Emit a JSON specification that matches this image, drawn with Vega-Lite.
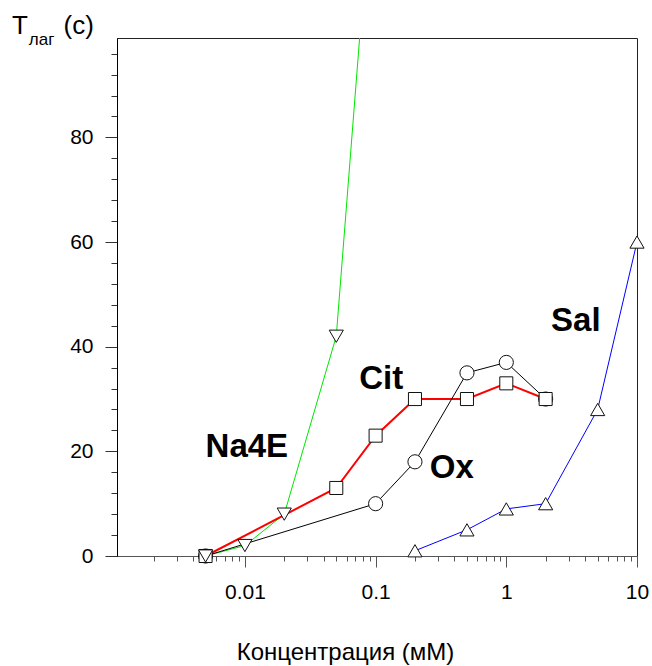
{
  "$schema": "https://vega.github.io/schema/vega-lite/v6.json",
  "autosize": {"type": "none"},
  "width": 520,
  "height": 518,
  "padding": {"left": 117, "top": 38, "right": 15, "bottom": 110},
  "background": "white",
  "config": {
    "view": {"stroke": "#222", "strokeWidth": 1},
    "font": "Liberation Sans",
    "axis": {"grid": false, "labelFont": "Liberation Sans", "titleFont": "Liberation Sans", "labelColor": "black", "titleColor": "black"}
  },
  "datasets": {
    "curves": [
      {"series": "Na4E", "conc": 0.005, "t": 0},
      {"series": "Na4E", "conc": 0.01, "t": 2},
      {"series": "Na4E", "conc": 0.02, "t": 8},
      {"series": "Na4E", "conc": 0.05, "t": 42},
      {"series": "Na4E", "conc": 0.1, "t": 138},
      {"series": "Cit", "conc": 0.005, "t": 0},
      {"series": "Cit", "conc": 0.05, "t": 13},
      {"series": "Cit", "conc": 0.1, "t": 23},
      {"series": "Cit", "conc": 0.2, "t": 30},
      {"series": "Cit", "conc": 0.5, "t": 30},
      {"series": "Cit", "conc": 1, "t": 33},
      {"series": "Cit", "conc": 2, "t": 30},
      {"series": "Ox", "conc": 0.005, "t": 0},
      {"series": "Ox", "conc": 0.1, "t": 10},
      {"series": "Ox", "conc": 0.2, "t": 18},
      {"series": "Ox", "conc": 0.5, "t": 35},
      {"series": "Ox", "conc": 1, "t": 37},
      {"series": "Ox", "conc": 2, "t": 30},
      {"series": "Sal", "conc": 0.2, "t": 1},
      {"series": "Sal", "conc": 0.5, "t": 5},
      {"series": "Sal", "conc": 1, "t": 9},
      {"series": "Sal", "conc": 2, "t": 10},
      {"series": "Sal", "conc": 5, "t": 28},
      {"series": "Sal", "conc": 10, "t": 60}
    ],
    "labels": [
      {"label": "Na4E", "conc": 0.005, "t": 19},
      {"label": "Cit", "conc": 0.075, "t": 32},
      {"label": "Ox", "conc": 0.26, "t": 15},
      {"label": "Sal", "conc": 2.2, "t": 43}
    ],
    "ytitle": [
      {"label": "T", "conc": 0.000165, "t": 99.7},
      {"label": "(с)", "conc": 0.00041, "t": 99.7}
    ],
    "ysub": [
      {"label": "лаг", "conc": 0.000222, "t": 97.6}
    ]
  },
  "encoding": {
    "x": {
      "field": "conc", "type": "quantitative",
      "scale": {"type": "log", "domain": [0.00105, 10], "nice": false},
      "axis": {
        "title": "Концентрация (мМ)",
        "titleFontSize": 24, "titleFontWeight": "normal",
        "titleX": 228, "titleY": 103, "titleAlign": "center", "titleBaseline": "alphabetic",
        "values": [0.002, 0.003, 0.004, 0.005, 0.006, 0.007, 0.008, 0.009, 0.01, 0.02, 0.03, 0.04, 0.05, 0.06, 0.07, 0.08, 0.09, 0.1, 0.2, 0.3, 0.4, 0.5, 0.6, 0.7, 0.8, 0.9, 1, 2, 3, 4, 5, 6, 7, 8, 9, 10],
        "labelExpr": "abs(log(datum.value)/LN10 - round(log(datum.value)/LN10)) < 0.000001 ? format(datum.value, '~g') : ''",
        "tickSize": {"condition": {"test": "abs(log(datum.value)/LN10 - round(log(datum.value)/LN10)) < 0.000001", "value": 11}, "value": 5},
        "labelFontSize": 21, "labelPadding": 14, "labelOverlap": false, "labelFlush": false, "labelBound": false,
        "domainColor": "#555", "tickColor": "#555"
      }
    },
    "y": {
      "field": "t", "type": "quantitative",
      "scale": {"domain": [0, 99], "nice": false, "zero": false},
      "axis": {
        "title": null,
        "values": [0, 4, 8, 12, 16, 20, 24, 28, 32, 36, 40, 44, 48, 52, 56, 60, 64, 68, 72, 76, 80, 84, 88, 92, 96],
        "labelExpr": "datum.value % 20 == 0 ? datum.label : ''",
        "tickSize": {"condition": {"test": "datum.value % 20 == 0", "value": 12}, "value": 6},
        "labelFontSize": 21, "labelPadding": 12, "labelOverlap": false, "labelFlush": false, "labelBound": false,
        "domainColor": "black", "tickColor": "#333"
      }
    }
  },
  "layer": [
    {"data": {"name": "curves"}, "transform": [{"filter": "datum.series == 'Na4E'"}], "mark": {"type": "line", "color": "#00e600", "strokeWidth": 1, "clip": true}},
    {"data": {"name": "curves"}, "transform": [{"filter": "datum.series == 'Cit'"}], "mark": {"type": "line", "color": "#ff0000", "strokeWidth": 2}},
    {"data": {"name": "curves"}, "transform": [{"filter": "datum.series == 'Ox'"}], "mark": {"type": "line", "color": "#000000", "strokeWidth": 1}},
    {"data": {"name": "curves"}, "transform": [{"filter": "datum.series == 'Sal'"}], "mark": {"type": "line", "color": "#0000ff", "strokeWidth": 1}},
    {"data": {"name": "curves"}, "transform": [{"filter": "datum.series == 'Ox' && datum.t <= 99"}], "mark": {"type": "point", "shape": "circle", "size": 200, "filled": true, "fill": "white", "stroke": "#111", "strokeWidth": 1, "opacity": 1}},
    {"data": {"name": "curves"}, "transform": [{"filter": "datum.series == 'Cit' && datum.t <= 99"}], "mark": {"type": "point", "shape": "square", "size": 170, "filled": true, "fill": "white", "stroke": "#111", "strokeWidth": 1, "opacity": 1}},
    {"data": {"name": "curves"}, "transform": [{"filter": "datum.series == 'Na4E' && datum.t <= 99"}], "mark": {"type": "point", "shape": "triangle-down", "size": 200, "filled": true, "fill": "white", "stroke": "#111", "strokeWidth": 1, "opacity": 1}},
    {"data": {"name": "curves"}, "transform": [{"filter": "datum.series == 'Sal' && datum.t <= 99"}], "mark": {"type": "point", "shape": "triangle-up", "size": 200, "filled": true, "fill": "white", "stroke": "#111", "strokeWidth": 1, "opacity": 1}},
    {"data": {"name": "labels"}, "mark": {"type": "text", "font": "Liberation Sans", "fontWeight": "bold", "fontSize": 33, "align": "left", "baseline": "alphabetic", "color": "black"}, "encoding": {"text": {"field": "label"}}},
    {"data": {"name": "ytitle"}, "mark": {"type": "text", "font": "Liberation Sans", "fontSize": 26, "align": "left", "baseline": "alphabetic", "color": "black"}, "encoding": {"text": {"field": "label"}}},
    {"data": {"name": "ysub"}, "mark": {"type": "text", "font": "Liberation Sans", "fontSize": 17, "align": "left", "baseline": "alphabetic", "color": "black"}, "encoding": {"text": {"field": "label"}}}
  ]
}
